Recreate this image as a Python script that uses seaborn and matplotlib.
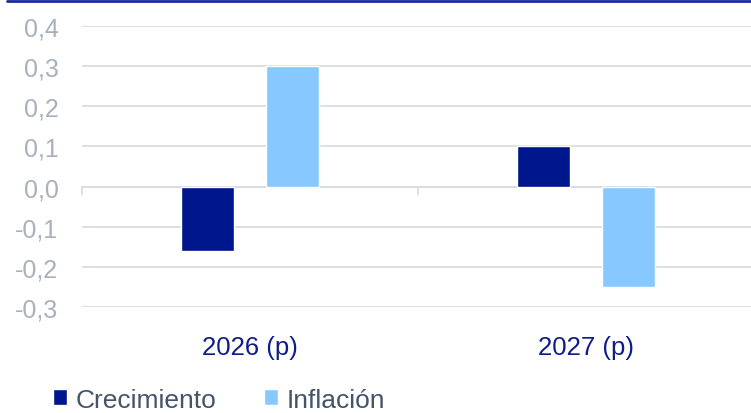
import seaborn as sns
import matplotlib.pyplot as plt
import matplotlib.lines as mlines
import pandas as pd

periodos = ["2026 (p)", "2027 (p)"]
crecimiento = [-0.16, 0.10]
inflacion = [0.30, -0.25]
yticks = [-0.3, -0.2, -0.1, 0.0, 0.1, 0.2, 0.3, 0.4]

df = pd.DataFrame({
    "periodo": periodos * 2,
    "serie": ["Crecimiento"] * 2 + ["Inflación"] * 2,
    "valor": crecimiento + inflacion,
})

sns.set_style("white")
plt.rcParams["font.family"] = ["Liberation Sans", "DejaVu Sans"]

grid_col = "#d9dde3"
fig = plt.figure(figsize=(7.51, 4.14), dpi=100)
ax = fig.add_axes([82 / 751, 1 - 308 / 414, 1 - 82 / 751, (308 - 27) / 414])

sns.barplot(data=df, x="periodo", y="valor", hue="serie",
            palette=["#00168c", "#87c8ff"], width=0.506, gap=0.375,
            saturation=1, ax=ax)

ax.set_ylim(-0.3, 0.4)
ax.set_xlim(-0.5, 1.49)
ax.set_yticks(yticks)
ax.set_yticklabels([f"{v:.1f}".replace(".", ",") for v in yticks])
ax.yaxis.grid(True, color=grid_col, linewidth=1.3)
ax.set_axisbelow(True)
for s in ax.spines.values():
    s.set_visible(False)
ax.tick_params(axis="y", length=0, pad=17, labelsize=18, labelcolor="#a7b1bc")
ax.tick_params(axis="x", length=0, pad=20, labelsize=18.5, labelcolor="#101c8c")
ax.set_xlabel("")
ax.set_ylabel("")

# zero line with category separators
zero = ax.secondary_xaxis(0.3 / 0.7)
zero.set_xticks([-0.5, 0.5, 1.5])
zero.set_xticklabels([])
zero.tick_params(direction="out", length=6, color=grid_col, width=1.3)
zero.spines["bottom"].set_color(grid_col)
zero.spines["bottom"].set_linewidth(1.3)

handles, labels = ax.get_legend_handles_labels()
ax.get_legend().remove()
fig.legend(handles, labels, loc="center left", bbox_to_anchor=(0.07, 0.032),
           ncol=2, frameon=False, fontsize=19, labelcolor="#44546a",
           handlelength=0.56, handleheight=0.56, handletextpad=0.3,
           columnspacing=1.8, borderaxespad=0, borderpad=0)

fig.add_artist(mlines.Line2D([7 / 751, 1], [1 - 2 / 414, 1 - 2 / 414],
                             color="#1a2a9c", linewidth=2))

fig.savefig("out.png", dpi=100)
